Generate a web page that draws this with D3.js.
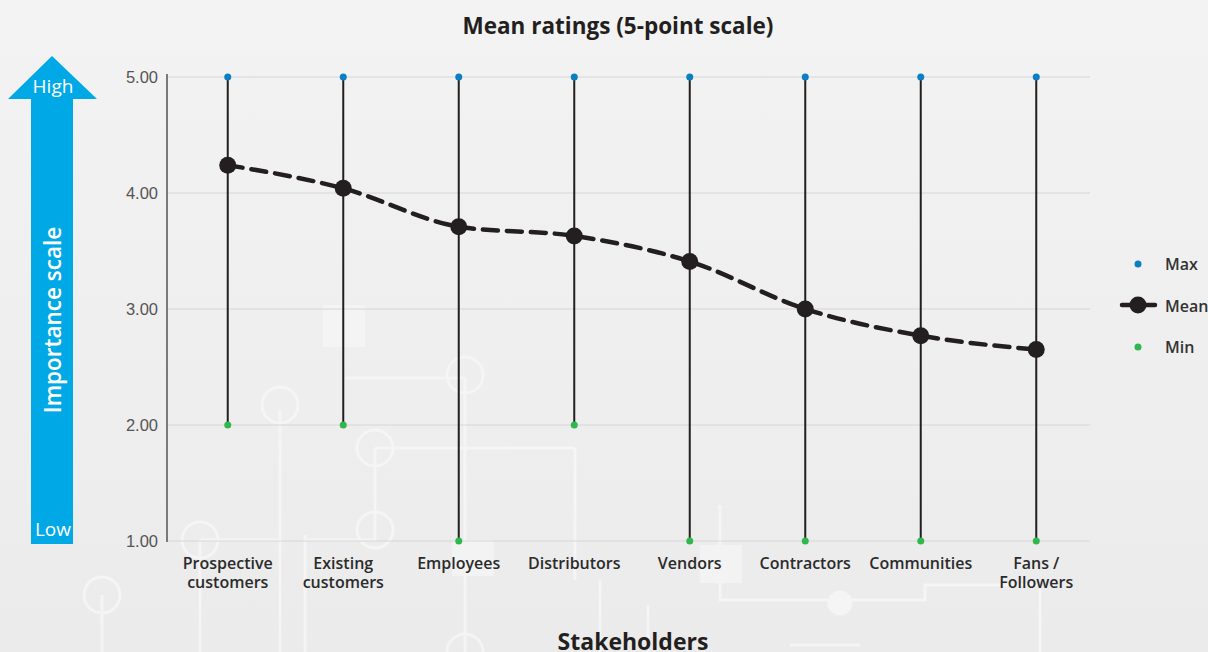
<!DOCTYPE html>
<html>
<head>
<meta charset="utf-8">
<script src="https://cdn.jsdelivr.net/npm/d3@7"></script>
<style>
  body { margin: 0; background: #efefef; }
  svg { display: block; font-family: "Open Sans", "Noto Sans", sans-serif; }
</style>
</head>
<body>
<div id="chart-area"></div>
<script>
const W = 1208, H = 652
const MARGIN = { LEFT: 167, RIGHT: 118, TOP: 77, BOTTOM: 111 }

const stakeholders = ["Prospective customers", "Existing customers", "Employees", "Distributors",
  "Vendors", "Contractors", "Communities", "Fans / Followers"]
const labelLines = [["Prospective", "customers"], ["Existing", "customers"], ["Employees"], ["Distributors"],
  ["Vendors"], ["Contractors"], ["Communities"], ["Fans /", "Followers"]]
const maxValues = [5, 5, 5, 5, 5, 5, 5, 5]
const meanValues = [4.24, 4.04, 3.71, 3.63, 3.41, 3.00, 2.77, 2.65]
const minValues = [2, 2, 1, 2, 1, 1, 1, 1]
const yTicks = [1, 2, 3, 4, 5]

const svg = d3.select("#chart-area").append("svg")
  .attr("width", W).attr("height", H)

// background
const grad = svg.append("defs").append("linearGradient")
  .attr("id", "bg").attr("x1", 0).attr("y1", 0).attr("x2", 0).attr("y2", 1)
grad.append("stop").attr("offset", "0%").attr("stop-color", "#f3f3f3")
grad.append("stop").attr("offset", "100%").attr("stop-color", "#ebebeb")
svg.append("rect").attr("width", W).attr("height", H).attr("fill", "url(#bg)")

// faint circuit decoration
const deco = svg.append("g").attr("fill", "none").attr("stroke", "#f8f8f8").attr("stroke-width", 3).attr("opacity", 0.75)
deco.append("path").attr("d", "M200,540 V652 M280,410 V652 M280,540 H200 M305,535 V652 M375,448 V540 H305 M375,448 H575 M575,448 V580 M345,378 H465 M465,378 V652 M720,505 V600 H840 H925 V585 H1040 V652 M600,580 V652 M648,605 V652 M790,645 H860 M102,595 V652")
deco.selectAll("circle.d").data([[200, 540, 18], [280, 405, 18], [375, 448, 18], [375, 530, 18], [465, 375, 18], [465, 652, 18], [102, 595, 18]])
  .enter().append("circle").attr("cx", d => d[0]).attr("cy", d => d[1]).attr("r", d => d[2])
deco.append("circle").attr("cx", 840).attr("cy", 603).attr("r", 11).attr("fill", "#f8f8f8")
deco.append("rect").attr("x", 323).attr("y", 305).attr("width", 42).attr("height", 42).attr("fill", "#f6f6f6").attr("stroke", "none")
deco.append("rect").attr("x", 700).attr("y", 545).attr("width", 42).attr("height", 38).attr("fill", "#f6f6f6").attr("stroke", "none")
deco.append("rect").attr("x", 452).attr("y", 540).attr("width", 42).attr("height", 36).attr("fill", "#f6f6f6").attr("stroke", "none")

const x = d3.scaleBand()
  .domain(stakeholders)
  .range([170, 1094])

const y = d3.scaleLinear()
  .domain([1, 5])
  .range([H - MARGIN.BOTTOM, MARGIN.TOP])

const cx = d => x(d) + x.bandwidth() / 2

// gridlines
svg.append("g").selectAll("line").data(yTicks).enter().append("line")
  .attr("x1", MARGIN.LEFT).attr("x2", 1090)
  .attr("y1", d => y(d)).attr("y2", d => y(d))
  .attr("stroke", "#d6d6d6").attr("stroke-width", 1)

// y axis
const yAxis = d3.axisLeft(y).tickValues(yTicks).tickFormat(d3.format(".2f")).tickSize(0).tickPadding(9)
const yAxisGroup = svg.append("g").attr("transform", `translate(${MARGIN.LEFT},0)`).call(yAxis)
yAxisGroup.select(".domain").attr("stroke", "#7a7a7a").attr("stroke-width", 2)
  .attr("d", `M0,${y(5) - 3}V${y(1) + 1}`)
yAxisGroup.selectAll("text").attr("fill", "#555").style("font-size", "16.5px")

// x axis labels
const xLabels = svg.append("g").selectAll("text").data(stakeholders).enter().append("text")
  .attr("x", d => cx(d)).attr("y", 569)
  .attr("text-anchor", "middle")
  .attr("fill", "#2b2b2b").style("font-size", "16px").style("font-weight", 600)
xLabels.each(function (d, i) {
  d3.select(this).selectAll("tspan").data(labelLines[i]).enter().append("tspan")
    .attr("x", cx(d)).attr("dy", (t, j) => j === 0 ? 0 : 19).text(t => t)
})

// range lines
svg.append("g").selectAll("line").data(stakeholders).enter().append("line")
  .attr("x1", d => cx(d)).attr("x2", d => cx(d))
  .attr("y1", (d, i) => y(maxValues[i])).attr("y2", (d, i) => y(minValues[i]))
  .attr("stroke", "#231f20").attr("stroke-width", 2)

// mean line
const line = d3.line().x(d => cx(d[0])).y(d => y(d[1])).curve(d3.curveMonotoneX)
svg.append("path").datum(stakeholders.map((s, i) => [s, meanValues[i]]))
  .attr("d", line).attr("fill", "none")
  .attr("stroke", "#231f20").attr("stroke-width", 4.5)
  .attr("stroke-dasharray", "15,9").attr("stroke-linecap", "round")

svg.append("g").selectAll("circle").data(stakeholders).enter().append("circle")
  .attr("cx", d => cx(d)).attr("cy", (d, i) => y(meanValues[i])).attr("r", 8.5)
  .attr("fill", "#231f20")

svg.append("g").selectAll("circle").data(stakeholders).enter().append("circle")
  .attr("cx", d => cx(d)).attr("cy", (d, i) => y(maxValues[i])).attr("r", 3.5)
  .attr("fill", "#0a7fc2")

svg.append("g").selectAll("circle").data(stakeholders).enter().append("circle")
  .attr("cx", d => cx(d)).attr("cy", (d, i) => y(minValues[i])).attr("r", 3.5)
  .attr("fill", "#2fb84b")

// titles
svg.append("text").attr("x", 618).attr("y", 34).attr("text-anchor", "middle")
  .attr("fill", "#231f20").style("font-size", "22.5px").style("font-weight", 700)
  .text("Mean ratings (5-point scale)")

svg.append("text").attr("x", 633).attr("y", 650).attr("text-anchor", "middle")
  .attr("fill", "#231f20").style("font-size", "23px").style("font-weight", 700)
  .text("Stakeholders")

// importance arrow
const arrow = svg.append("g")
arrow.append("path")
  .attr("d", "M31,99 H8 L52,56 L97,99 H73 V544 H31 Z")
  .attr("fill", "#00a9e6")
arrow.append("text").attr("x", 53).attr("y", 93).attr("text-anchor", "middle")
  .attr("fill", "#fff").style("font-size", "19px").text("High")
arrow.append("text").attr("x", 53).attr("y", 536).attr("text-anchor", "middle")
  .attr("fill", "#fff").style("font-size", "19px").text("Low")
arrow.append("text").attr("transform", "translate(61,320) rotate(-90)")
  .attr("text-anchor", "middle").attr("fill", "#fff")
  .style("font-size", "22.5px").style("font-weight", 600).text("Importance scale")

// legend
const legend = svg.append("g")
const legendItems = ["Max", "Mean", "Min"]
legend.append("circle").attr("cx", 1138).attr("cy", 264).attr("r", 3.5).attr("fill", "#0a7fc2")
legend.append("line").attr("x1", 1122).attr("x2", 1155).attr("y1", 305).attr("y2", 305)
  .attr("stroke", "#231f20").attr("stroke-width", 4.5).attr("stroke-linecap", "round")
legend.append("circle").attr("cx", 1138).attr("cy", 305).attr("r", 8.5).attr("fill", "#231f20")
legend.append("circle").attr("cx", 1138).attr("cy", 347).attr("r", 3.5).attr("fill", "#2fb84b")
legend.selectAll("text").data(legendItems).enter().append("text")
  .attr("x", 1165).attr("y", (d, i) => 270 + i * 41.5)
  .attr("fill", "#333").style("font-size", "16px").style("font-weight", 600)
  .text(d => d)
</script>
</body>
</html>
